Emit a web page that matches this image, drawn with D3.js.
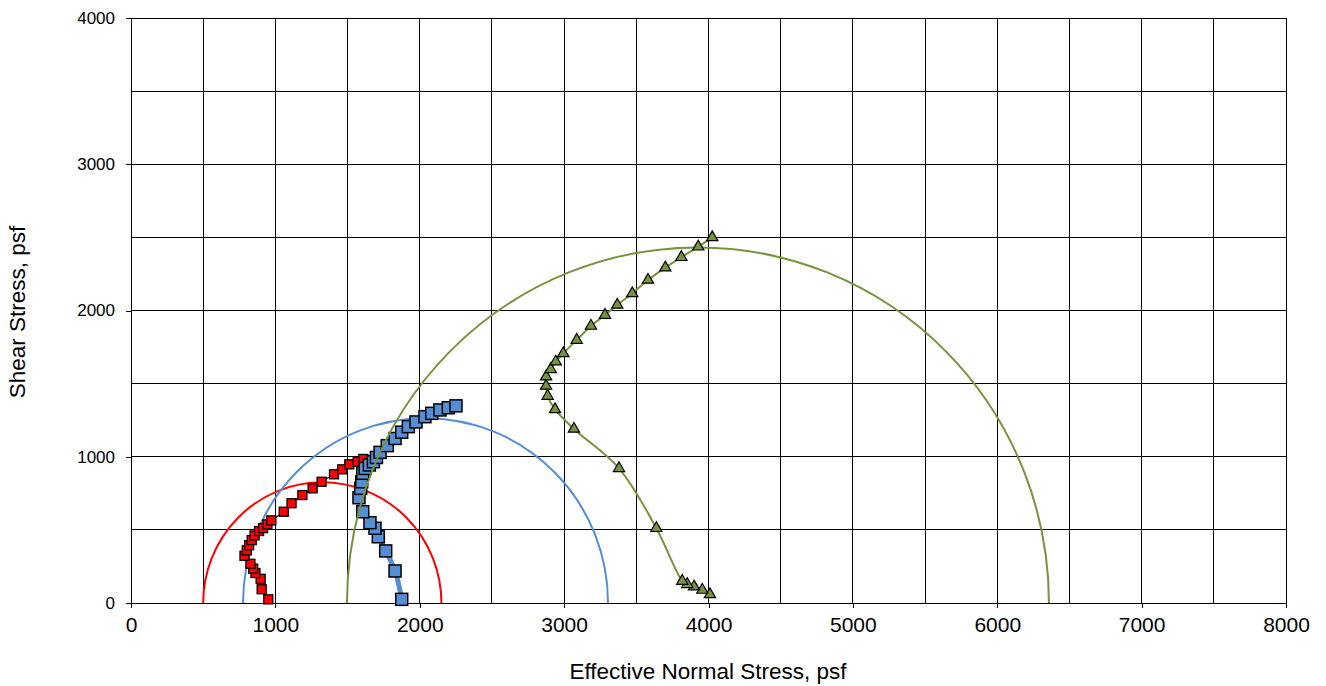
<!DOCTYPE html>
<html><head><meta charset="utf-8">
<script src="https://cdn.jsdelivr.net/npm/d3@7"></script>
<style>body{margin:0;background:#fff;} text{font-family:Arial,"Liberation Sans",sans-serif;}</style>
</head><body><svg id="c" width="1326" height="686"></svg>
<script>
// Mohr circles: [sigma3, sigma1]
const circleNames = ["red", "blue", "green"];
const circleS3 = [500, 776, 1496];
const circleS1 = [2150, 3304, 6358];
// Stress paths
const redX = [951,905,898,862,846,827,786,802,818,836,856,887,915,945,972,1058,1112,1187,1258,1320,1406,1463,1512,1570,1609];
const redY = [25,94,165,205,235,268,323,360,395,430,462,492,512,538,565,624,682,738,784,829,880,914,948,966,985];
const blueX = [1875,1829,1764,1713,1690,1655,1605,1579,1591,1598,1605,1622,1651,1679,1700,1725,1775,1829,1875,1921,1974,2036,2083,2140,2198,2251];
const blueY = [25,219,356,453,511,549,624,720,784,829,887,920,944,966,995,1030,1076,1125,1168,1206,1238,1274,1297,1320,1335,1348];
const greenX = [4010,3957,3900,3853,3818,3639,3380,3068,2937,2886,2875,2875,2907,2942,2994,3087,3186,3283,3368,3472,3581,3701,3812,3929,4026];
const greenY = [59,89,112,128,150,511,921,1190,1324,1415,1484,1548,1598,1650,1707,1798,1894,1969,2038,2117,2209,2293,2364,2436,2500];
const xTicks = [0,1000,2000,3000,4000,5000,6000,7000,8000];
const yTicks = [0,1000,2000,3000,4000];
const xGrid = d3.range(0, 8001, 500);
const yGrid = d3.range(0, 4001, 500);

const colors = {red:"#FF0000", blue:"#558ED5", green:"#77933C"};
const svg = d3.select("#c");
const x = d3.scaleLinear().domain([0,8000]).range([131,1286]);
const y = d3.scaleLinear().domain([0,4000]).range([603,18]);

// grid
svg.append("g").selectAll("line").data(xGrid).join("line")
  .attr("x1",d=>x(d)).attr("x2",d=>x(d)).attr("y1",y(0)).attr("y2",y(4000))
  .attr("stroke","#000").attr("stroke-width",1).attr("shape-rendering","crispEdges");
svg.append("g").selectAll("line").data(yGrid).join("line")
  .attr("x1",x(0)).attr("x2",x(8000)).attr("y1",d=>y(d)).attr("y2",d=>y(d))
  .attr("stroke","#000").attr("stroke-width",1).attr("shape-rendering","crispEdges");

// axes
const xa = svg.append("g").attr("transform",`translate(0,${y(0)})`)
  .call(d3.axisBottom(x).tickValues(xTicks).tickSize(5).tickPadding(9).tickFormat(d3.format("d")));
const ya = svg.append("g").attr("transform",`translate(${x(0)},0)`)
  .call(d3.axisLeft(y).tickValues(yTicks).tickSize(5).tickPadding(11).tickFormat(d3.format("d")));
[xa,ya].forEach(a=>{
  a.select(".domain").attr("stroke","#000").attr("shape-rendering","crispEdges");
  a.selectAll(".tick line").attr("stroke","#000").attr("shape-rendering","crispEdges");
  a.selectAll("text").attr("fill","#000").attr("font-family","Arial, 'Liberation Sans', sans-serif");
});
xa.selectAll("text").attr("font-size",21);
ya.selectAll("text").attr("font-size",17);

// axis titles
svg.append("text").attr("x",708).attr("y",679).attr("text-anchor","middle")
  .attr("font-size",22.5).text("Effective Normal Stress, psf");
svg.append("text").attr("transform","translate(25,312) rotate(-90)").attr("text-anchor","middle")
  .attr("font-size",22.5).text("Shear Stress, psf");

function drawCircle(i){
  const s3 = circleS3[i], s1 = circleS1[i];
  const c = (s3+s1)/2, r = (s1-s3)/2;
  const rx = x(c+r)-x(c), ry = y(0)-y(r);
  svg.append("path")
    .attr("d",`M${x(s3)},${y(0)} A${rx},${ry} 0 0 1 ${x(s1)},${y(0)}`)
    .attr("fill","none").attr("stroke",colors[circleNames[i]]).attr("stroke-width",2);
}
function pts(xs,ys){ return xs.map((v,i)=>[v,ys[i]]); }
const line = d3.line().x(d=>x(d[0])).y(d=>y(d[1])).curve(d3.curveCatmullRom.alpha(0.5));

drawCircle(0);
drawCircle(1);

// red series
const rp = pts(redX,redY);
svg.append("path").attr("d",line(rp)).attr("fill","none").attr("stroke","#000").attr("stroke-width",1.2);
svg.append("g").selectAll("rect").data(rp).join("rect")
  .attr("x",d=>x(d[0])-4.5).attr("y",d=>y(d[1])-4.5).attr("width",9).attr("height",9)
  .attr("fill","#FF0000").attr("stroke","#000").attr("stroke-width",1.3);

// blue series
const bp = pts(blueX,blueY);
svg.append("path").attr("d",line(bp)).attr("fill","none").attr("stroke",colors.blue).attr("stroke-width",5);
svg.append("g").selectAll("rect").data(bp).join("rect")
  .attr("x",d=>x(d[0])-6).attr("y",d=>y(d[1])-6).attr("width",12).attr("height",12)
  .attr("fill",colors.blue).attr("stroke","#000").attr("stroke-width",1.5);

drawCircle(2);

// green series
const gp = pts(greenX,greenY);
svg.append("path").attr("d",line(gp)).attr("fill","none").attr("stroke",colors.green).attr("stroke-width",2);
const tri = d3.symbol().type(d3.symbolTriangle).size(55);
svg.append("g").selectAll("path").data(gp).join("path")
  .attr("transform",d=>`translate(${x(d[0])},${y(d[1])})`).attr("d",tri)
  .attr("fill",colors.green).attr("stroke","#000").attr("stroke-width",1.2);
</script></body></html>
